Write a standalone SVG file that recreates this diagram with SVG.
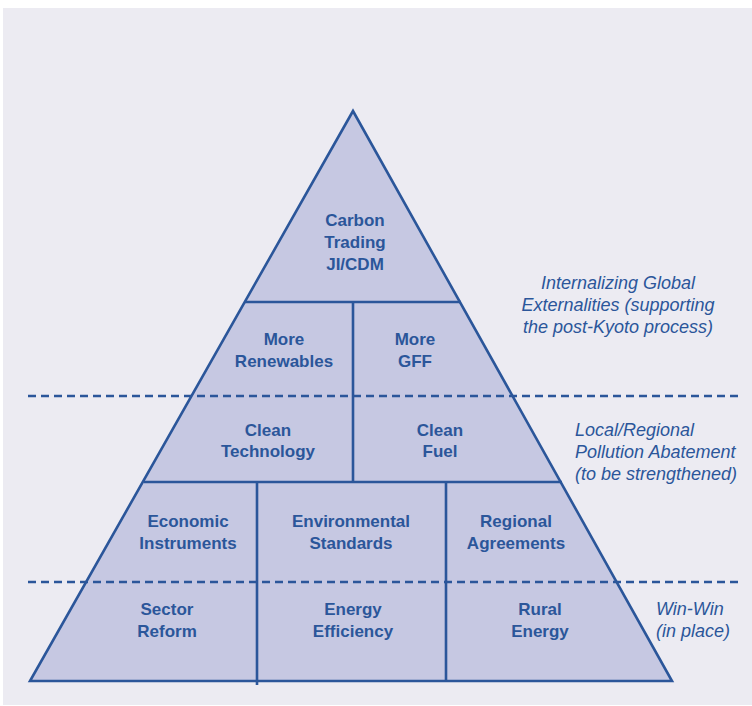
<svg xmlns="http://www.w3.org/2000/svg" width="752" height="706" viewBox="0 0 752 706">
<style>
.ln{stroke:#2b569a;stroke-width:2.6;fill:none}
.dash{stroke:#2b569a;stroke-width:2.6;stroke-dasharray:8 5;fill:none}
.lbl{font-family:"Liberation Sans",Arial,sans-serif;font-weight:bold;font-size:17px;fill:#2b569a;text-anchor:middle}
.note{font-family:"Liberation Sans",Arial,sans-serif;font-style:italic;font-size:18px;fill:#2b569a}
</style>
<rect x="0" y="0" width="752" height="706" fill="#ffffff"/>
<rect x="3" y="8" width="749" height="697" fill="#ecebf2"/>
<g id="pyramid">
<polygon points="353,111 30,681 672,681" fill="#c6c8e2" stroke="#2b569a" stroke-width="2.6" stroke-linejoin="miter"/>
</g>
<g id="connectors">
<line class="ln" x1="245" y1="302" x2="461" y2="302"/>
<line class="ln" x1="144" y1="482" x2="562" y2="482"/>
<line class="ln" x1="353" y1="302" x2="353" y2="482"/>
<line class="ln" x1="257" y1="482" x2="257" y2="685"/>
<line class="ln" x1="446" y1="482" x2="446" y2="681"/>
<line class="dash" x1="28" y1="396" x2="738" y2="396"/>
<line class="dash" x1="28" y1="582" x2="738" y2="582"/>
</g>
<g id="carbon-trading"><text class="lbl" x="355" y="226">Carbon</text><text class="lbl" x="355" y="248">Trading</text><text class="lbl" x="355" y="270">JI/CDM</text></g>
<g id="more-renewables"><text class="lbl" x="284" y="345">More</text><text class="lbl" x="284" y="367">Renewables</text></g>
<g id="more-gff"><text class="lbl" x="415" y="345">More</text><text class="lbl" x="415" y="367">GFF</text></g>
<g id="clean-technology"><text class="lbl" x="268" y="436">Clean</text><text class="lbl" x="268" y="457">Technology</text></g>
<g id="clean-fuel"><text class="lbl" x="440" y="436">Clean</text><text class="lbl" x="440" y="457">Fuel</text></g>
<g id="economic-instruments"><text class="lbl" x="188" y="527">Economic</text><text class="lbl" x="188" y="549">Instruments</text></g>
<g id="environmental-standards"><text class="lbl" x="351" y="527">Environmental</text><text class="lbl" x="351" y="549">Standards</text></g>
<g id="regional-agreements"><text class="lbl" x="516" y="527">Regional</text><text class="lbl" x="516" y="549">Agreements</text></g>
<g id="sector-reform"><text class="lbl" x="167" y="615">Sector</text><text class="lbl" x="167" y="637">Reform</text></g>
<g id="energy-efficiency"><text class="lbl" x="353" y="615">Energy</text><text class="lbl" x="353" y="637">Efficiency</text></g>
<g id="rural-energy"><text class="lbl" x="540" y="615">Rural</text><text class="lbl" x="540" y="637">Energy</text></g>
<g id="note-global"><text class="note" x="618" y="289" text-anchor="middle">Internalizing Global</text><text class="note" x="618" y="311" text-anchor="middle">Externalities (supporting</text><text class="note" x="618" y="333" text-anchor="middle">the post-Kyoto process)</text></g>
<g id="note-local"><text class="note" x="575" y="436">Local/Regional</text><text class="note" x="575" y="458">Pollution Abatement</text><text class="note" x="575" y="480">(to be strengthened)</text></g>
<g id="note-winwin"><text class="note" x="656" y="615">Win-Win</text><text class="note" x="656" y="637">(in place)</text></g>
</svg>
